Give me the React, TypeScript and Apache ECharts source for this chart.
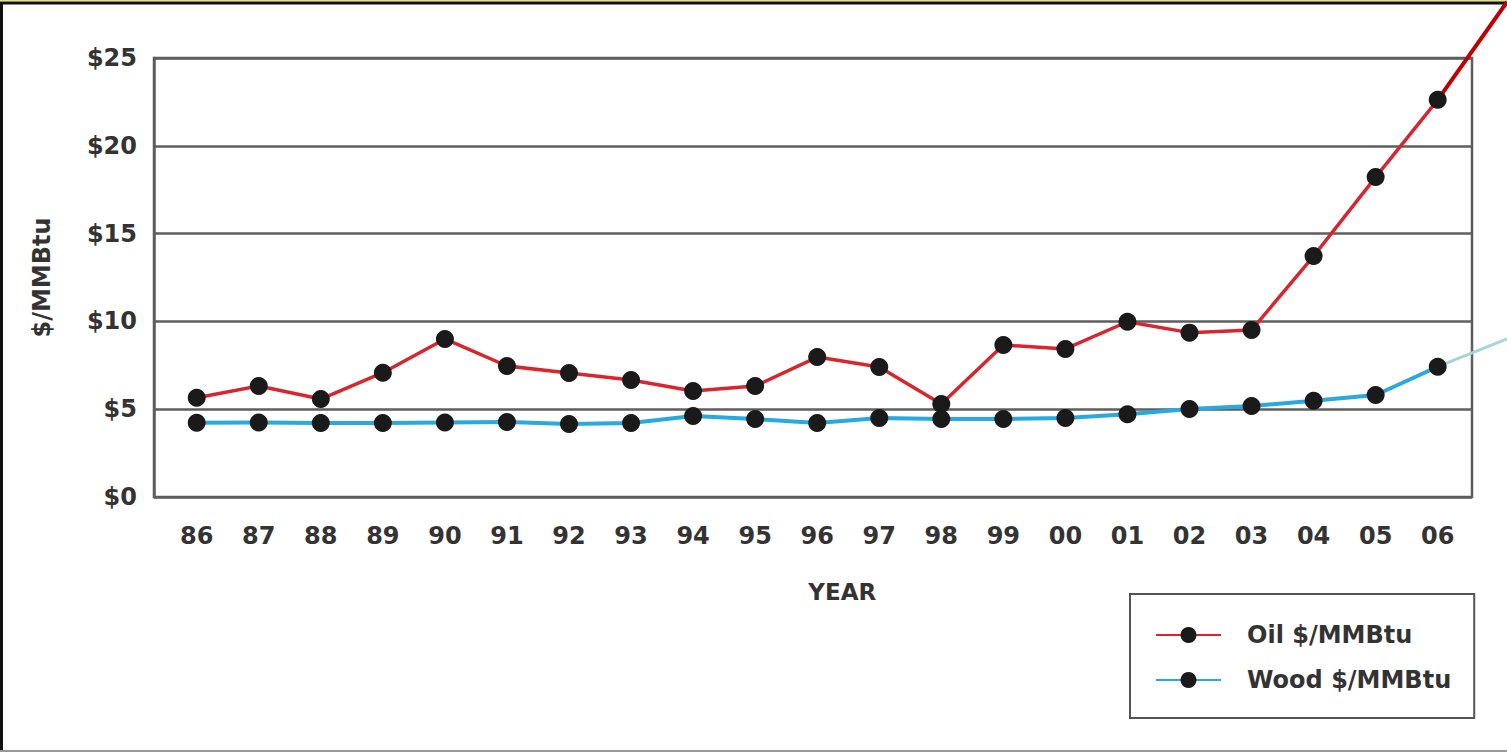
import React, { useEffect, useRef } from "react";
import * as echarts from "echarts";

const years = ["86", "87", "88", "89", "90", "91", "92", "93", "94", "95", "96", "97", "98", "99", "00", "01", "02", "03", "04", "05", "06"];
const oil = [5.65, 6.32, 5.58, 7.08, 9.0, 7.46, 7.06, 6.66, 6.04, 6.32, 7.97, 7.4, 5.3, 8.66, 8.43, 9.98, 9.36, 9.51, 13.72, 18.22, 22.62];
const wood = [4.23, 4.24, 4.21, 4.21, 4.24, 4.27, 4.16, 4.21, 4.61, 4.44, 4.21, 4.5, 4.44, 4.44, 4.5, 4.71, 5.01, 5.18, 5.48, 5.81, 7.42];
const yMin = 0;
const yMax = 25;
const yStep = 5;

const FONT = "DejaVu Sans";
const TEXT = "#333333";
const GRIDC = "#5e5e5e";

export default function App() {
  const ref = useRef<HTMLDivElement>(null);
  useEffect(() => {
    if (!ref.current) return;
    const chart = echarts.init(ref.current, null, { renderer: "svg" });
    const labelStyle = { fontFamily: FONT, fontSize: 24, fontWeight: "bold", color: TEXT };
    chart.setOption({
      animation: false,
      backgroundColor: "#ffffff",
      textStyle: { fontFamily: FONT },
      grid: [
        { left: 154, right: 35, top: 58, bottom: 255, show: true, borderColor: GRIDC, borderWidth: 2.5, backgroundColor: "transparent" },
        { left: 196.7, right: 69.3, top: 58, bottom: 255 },
      ],
      xAxis: [
        { gridIndex: 0, type: "value", min: 0, max: 1, show: false },
        {
          gridIndex: 1,
          type: "category",
          data: years,
          boundaryGap: false,
          axisLine: { show: false },
          axisTick: { show: false },
          splitLine: { show: false },
          axisLabel: { ...labelStyle, margin: 27, interval: 0 },
          name: "YEAR",
          nameLocation: "middle",
          nameGap: 83,
          nameTextStyle: { ...labelStyle, fontSize: 23, padding: [0, 0, 0, 50] },
        },
      ],
      yAxis: [
        {
          gridIndex: 0,
          type: "value",
          min: yMin,
          max: yMax,
          interval: yStep,
          axisLine: { show: true, lineStyle: { color: GRIDC, width: 2.5 } },
          axisTick: { show: false },
          splitLine: { show: true, lineStyle: { color: GRIDC, width: 2.5 } },
          axisLabel: { ...labelStyle, margin: 17, formatter: (v: number) => "$" + v },
          name: "$/MMBtu",
          nameLocation: "middle",
          nameGap: 100,
          nameTextStyle: { ...labelStyle },
        },
        { gridIndex: 1, type: "value", min: yMin, max: yMax, interval: yStep, show: false },
      ],
      legend: {
        orient: "vertical",
        left: 1130,
        top: 594,
        padding: [29, 23, 26, 25],
        itemGap: 21,
        itemWidth: 65,
        itemHeight: 20,
        borderColor: "#555555",
        borderWidth: 2,
        textStyle: { ...labelStyle, padding: [0, 0, 0, 21] },
        data: ["Oil $/MMBtu", "Wood $/MMBtu"],
      },
      series: [
        {
          name: "Oil $/MMBtu",
          type: "line",
          xAxisIndex: 1,
          yAxisIndex: 1,
          data: oil,
          symbol: "circle",
          symbolSize: 18,
          itemStyle: { color: "#1a1a1a" },
          lineStyle: { color: "#d8262f", width: 3.5 },
          z: 3,
        },
        {
          name: "Wood $/MMBtu",
          type: "line",
          xAxisIndex: 1,
          yAxisIndex: 1,
          data: wood,
          symbol: "circle",
          symbolSize: 18,
          itemStyle: { color: "#1a1a1a" },
          lineStyle: { color: "#27a9e1", width: 4 },
          z: 4,
        },
      ],
    });
    const last = years.length - 1;
    const pOil = chart.convertToPixel({ xAxisIndex: 1, yAxisIndex: 1 }, [last, oil[last]]) as number[];
    const pWood = chart.convertToPixel({ xAxisIndex: 1, yAxisIndex: 1 }, [last, wood[last]]) as number[];
    const W = chart.getWidth();
    const H = chart.getHeight();
    chart.setOption({
      graphic: [
        { type: "line", z: 1, shape: { x1: pOil[0], y1: pOil[1], x2: W, y2: 2 }, style: { stroke: "#c00000", lineWidth: 4 } },
        { type: "line", z: 1, shape: { x1: pWood[0], y1: pWood[1], x2: W, y2: 339 }, style: { stroke: "#a4d6d8", lineWidth: 3 } },
        { type: "line", shape: { x1: 0, y1: 0.5, x2: W, y2: 0.5 }, style: { stroke: "#e8e27a", lineWidth: 1.5 } },
        { type: "line", shape: { x1: 0, y1: 3, x2: W, y2: 3 }, style: { stroke: "#111111", lineWidth: 3 } },
        { type: "line", shape: { x1: 1.5, y1: 2, x2: 1.5, y2: H }, style: { stroke: "#111111", lineWidth: 3 } },
        { type: "line", shape: { x1: 0, y1: H - 1, x2: W, y2: H - 1 }, style: { stroke: "#999999", lineWidth: 2 } },
      ],
    });
    return () => chart.dispose();
  }, []);
  return <div ref={ref} style={{ position: "fixed", left: 0, top: 0, width: 1507, height: 752 }} />;
}
